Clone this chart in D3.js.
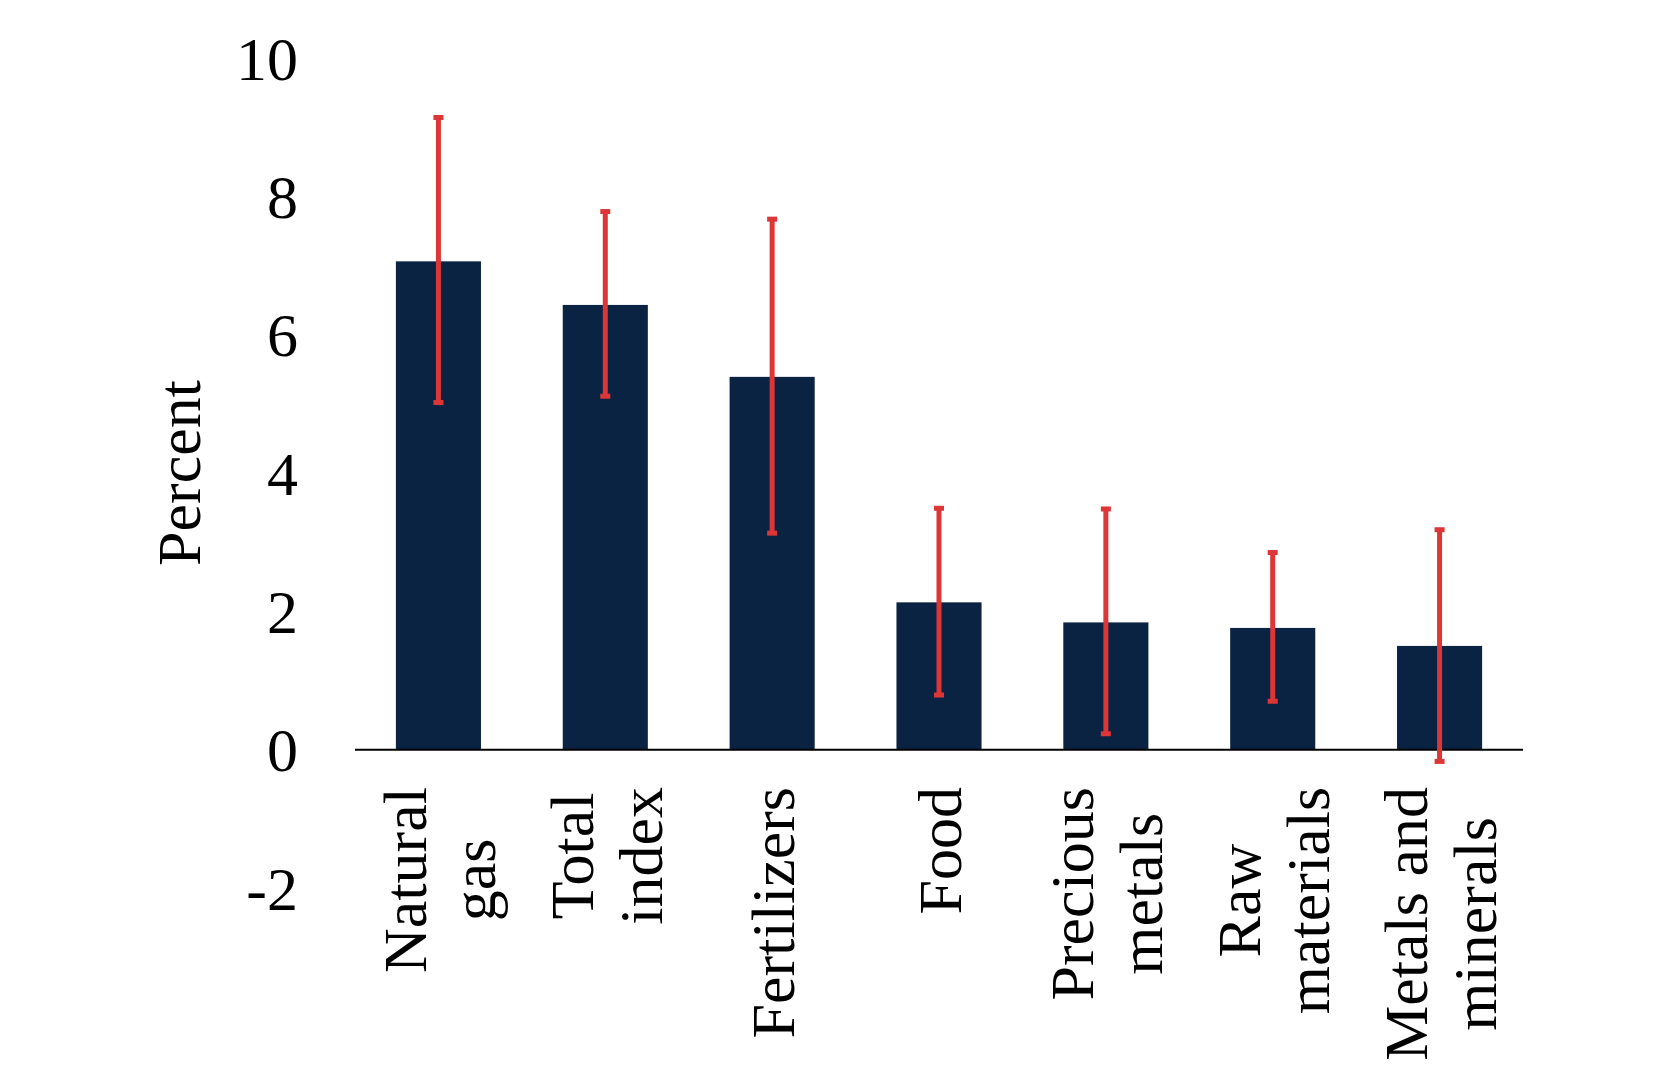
<!DOCTYPE html>
<html>
<head>
<meta charset="utf-8">
<script src="https://cdn.jsdelivr.net/npm/d3@7"></script>
<style>
  html, body { margin: 0; padding: 0; background: #fff; }
  svg { display: block; }
  text { font-family: "Liberation Serif", "Times New Roman", serif; fill: #000; }
</style>
</head>
<body>
<svg id="chart" width="1680" height="1088"></svg>
<script>
const categories = ["Natural\ngas", "Total\nindex", "Fertilizers", "Food", "Precious\nmetals", "Raw\nmaterials", "Metals and\nminerals"];
const values = [7.06, 6.43, 5.39, 2.13, 1.84, 1.76, 1.50];
const errLow = [5.02, 5.11, 3.13, 0.79, 0.23, 0.70, -0.17];
const errHigh = [9.14, 7.78, 7.67, 3.49, 3.48, 2.85, 3.18];
const yTicks = [-2, 0, 2, 4, 6, 8, 10];
const yTitle = "Percent";

const svg = d3.select("#chart");
const fontSize = 62;

const x = d3.scaleBand()
  .domain(categories)
  .range([355, 1523])
  .paddingInner(0.49)
  .paddingOuter(0.245);

const y = d3.scaleLinear().domain([-2, 10]).range([888, 58]);

const data = categories.map((c, i) => ({ c, v: values[i], lo: errLow[i], hi: errHigh[i] }));

// bars
svg.append("g").selectAll("rect").data(data).join("rect")
  .attr("x", d => x(d.c))
  .attr("width", x.bandwidth())
  .attr("y", d => y(Math.max(0, d.v)))
  .attr("height", d => Math.abs(y(d.v) - y(0)))
  .attr("fill", "#0b2343");

// baseline axis
svg.append("line")
  .attr("x1", x.range()[0]).attr("x2", x.range()[1])
  .attr("y1", y(0)).attr("y2", y(0))
  .attr("stroke", "#000").attr("stroke-width", 2);

// error bars
const red = "#dc3636";
const eg = svg.append("g");
data.forEach(d => {
  const cx = x(d.c) + x.bandwidth() / 2;
  eg.append("line").attr("x1", cx).attr("x2", cx)
    .attr("y1", y(d.hi)).attr("y2", y(d.lo))
    .attr("stroke", red).attr("stroke-width", 5);
  [d.hi, d.lo].forEach(v => {
    eg.append("line").attr("x1", cx - 5).attr("x2", cx + 5)
      .attr("y1", y(v)).attr("y2", y(v))
      .attr("stroke", red).attr("stroke-width", 5);
  });
});

// y tick labels
svg.append("g").selectAll("text").data(yTicks).join("text")
  .attr("x", 298)
  .attr("y", d => y(d))
  .attr("dy", "0.35em")
  .attr("text-anchor", "end")
  .attr("font-size", fontSize)
  .text(d => d);

// y title
svg.append("text")
  .attr("transform", `translate(200, ${(y(10) + y(-2)) / 2}) rotate(-90)`)
  .attr("text-anchor", "middle")
  .attr("font-size", fontSize)
  .text(yTitle);

// category labels (rotated, multi-line, block top-aligned under axis)
const lab = svg.append("g");
const labelTop = 787;
const lineGap = 69;
categories.forEach(c => {
  const lines = c.split("\n");
  const n = lines.length;
  const cx = x(c) + x.bandwidth() / 2;
  const lens = lines.map(t => {
    const tmp = lab.append("text").attr("font-size", fontSize).text(t);
    const L = tmp.node().getComputedTextLength();
    tmp.remove();
    return L;
  });
  const maxLen = d3.max(lens);
  const cy = labelTop + maxLen / 2;
  lines.forEach((t, i) => {
    const bx = cx + 22 + (i - (n - 1) / 2) * lineGap;
    lab.append("text")
      .attr("transform", `translate(${bx}, ${cy}) rotate(-90)`)
      .attr("text-anchor", "middle")
      .attr("font-size", fontSize)
      .text(t);
  });
});
</script>
</body>
</html>
